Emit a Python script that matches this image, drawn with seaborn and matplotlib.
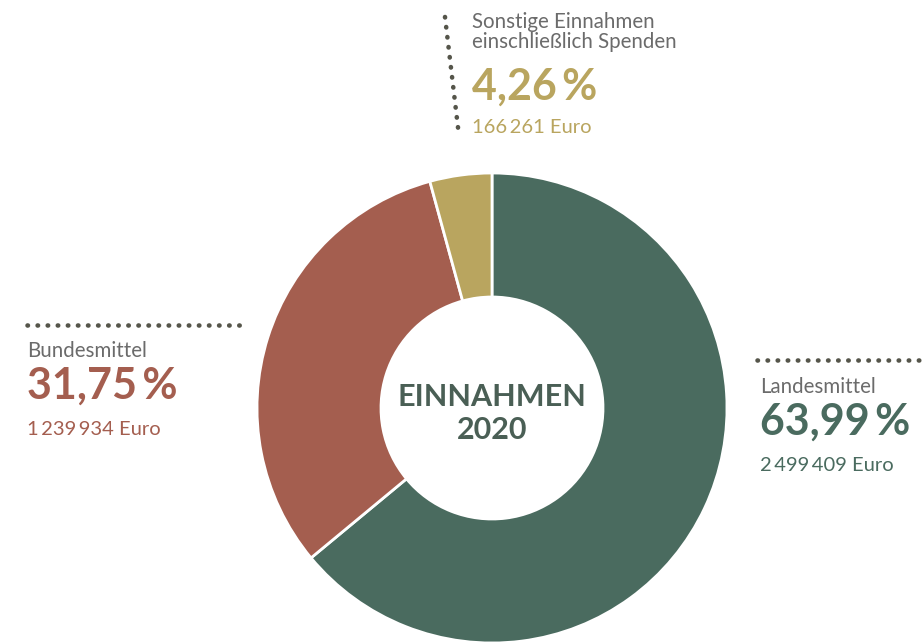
import matplotlib.pyplot as plt
import seaborn as sns

# Einnahmen 2020
labels = ['Landesmittel', 'Bundesmittel', 'Sonstige Einnahmen\neinschließlich Spenden']
shares = [63.99, 31.75, 4.26]
share_text = ['63,99\u2009%', '31,75\u2009%', '4,26\u2009%']
euro_text = ['2\u2009499\u2009409 Euro', '1\u2009239\u2009934 Euro', '166\u2009261 Euro']
colors = ['#4a6b5f', '#a45e4f', '#b9a55f']

W, H = 922, 643

sns.set_theme(style='white')
plt.rcParams['font.family'] = ['Lato', 'DejaVu Sans']

fig = plt.figure(figsize=(W / 100, H / 100), dpi=100)
ax = fig.add_axes([0, 0, 1, 1])
ax.set_xlim(0, W)
ax.set_ylim(0, H)
ax.set_aspect('equal')
ax.axis('off')

def Y(y):
    # pixel y from top -> axes y
    return H - y

ax.pie(shares, colors=colors, startangle=90, counterclock=False,
       center=(492, Y(408)), radius=235,
       wedgeprops=dict(width=124, edgecolor='white', linewidth=2))
ax.set_xlim(0, W)
ax.set_ylim(0, H)

dot_col = '#55554a'
dot_kw = dict(color=dot_col, linestyle=(0, (0.1, 2.1)), linewidth=3.3,
              dash_capstyle='round')
ax.plot([27, 248], [Y(325), Y(325)], **dot_kw)
ax.plot([757, 922], [Y(360), Y(360)], **dot_kw)
ax.plot([445, 459], [Y(17), Y(136)], **dot_kw)

grey = '#6b6b6b'

def block(x, y_label, y_pct, y_euro, i):
    ax.text(x, Y(y_label), labels[i], color=grey, fontsize=14.8,
            va='top', ha='left', linespacing=1.0)
    ax.text(x, Y(y_pct), share_text[i], color=colors[i], fontsize=31,
            fontweight='bold', va='top', ha='left')
    ax.text(x, Y(y_euro), euro_text[i], color=colors[i], fontsize=14.5,
            va='top', ha='left')

block(760, 377, 402, 457, 0)
block(27, 341, 366, 421, 1)
block(472, 12, 67, 119, 2)

ax.text(492, Y(383), 'EINNAHMEN', color='#4a5f55', fontsize=22,
        fontweight='bold', ha='center', va='top')
ax.text(492, Y(416), '2020', color='#4a5f55', fontsize=22,
        fontweight='bold', ha='center', va='top')

fig.savefig('out.png', dpi=100, facecolor='white')
